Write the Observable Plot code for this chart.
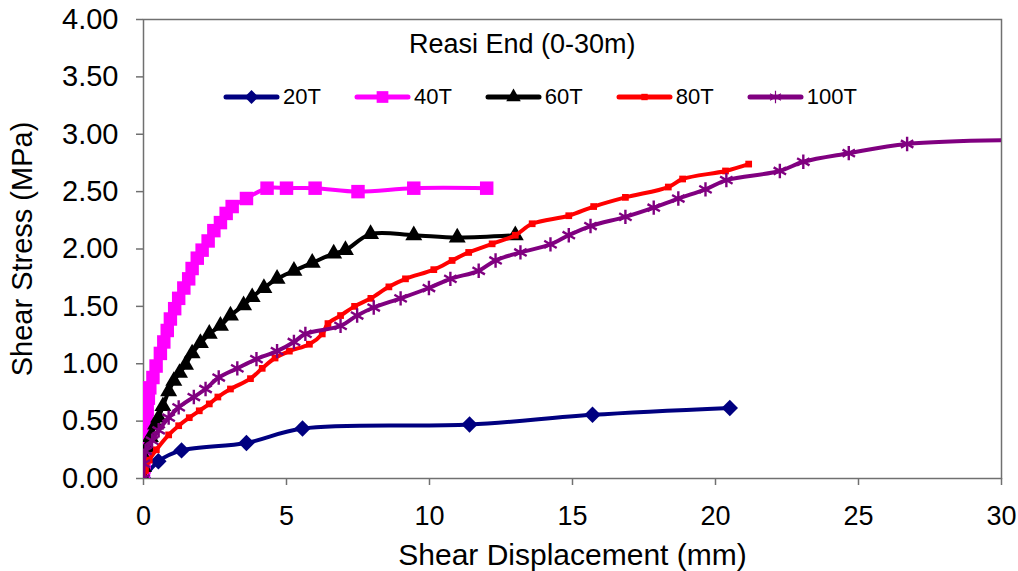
<!DOCTYPE html>
<html>
<head>
<meta charset="utf-8">
<script src="https://cdn.jsdelivr.net/npm/d3@7"></script>
<script src="https://cdn.jsdelivr.net/npm/@observablehq/plot@0.6"></script>
<style>
  body { margin: 0; background: #fff; font-family: "Liberation Sans", Arial, sans-serif; }
  #chart { position: relative; width: 1018px; height: 571px; }
  #title { position: absolute; left: 409px; top: 29px; font-size: 27px; color: #000; white-space: nowrap; }
  #legend { position: absolute; left: 223px; top: 84px; display: flex; align-items: center; font-size: 22px; color: #000; }
  #legend .item { display: flex; align-items: center; margin-right: 33px; }
  #legend svg { display: block; margin-right: 3px; }
</style>
</head>
<body>
<div id="chart"><div id="title">Reasi End (0-30m)</div><div id="legend"></div></div>
<script>
// Direct shear test, Reasi End (0-30 m): shear stress vs shear displacement
// for five normal loads.
const series = ["20T", "40T", "60T", "80T", "100T"];
const colors = ["#000080", "#ff00ff", "#000000", "#ff0000", "#800080"];
const symbols = ["diamond2", "square", "triangle", "square", "asterisk"];
const radii = [7.4, 7.6, 6.3, 3.8, 6.8];
const legendRadii = [6.2, 6.6, 5.4, 3.6, 6.0];

const xTicks = [0, 5, 10, 15, 20, 25, 30];
const yTicks = [0, 0.5, 1, 1.5, 2, 2.5, 3, 3.5, 4];

// shear displacement (mm) / shear stress (MPa)
const disp20 = [0, 0.52, 1.33, 3.6, 5.56, 11.4, 15.7, 20.5];
const stress20 = [0, 0.15, 0.245, 0.31, 0.435, 0.47, 0.555, 0.615];

const disp40 = [0, 0.02, 0.04, 0.06, 0.08, 0.1, 0.13, 0.17, 0.22, 0.33, 0.44, 0.59, 0.71, 0.83, 0.94, 1.09, 1.23, 1.41, 1.58, 1.7, 1.88, 2.05, 2.26, 2.46, 2.69, 2.89, 3.1, 3.6, 4.32, 5.0, 6.0, 7.5, 9.45, 12.0];
const stress40 = [0, 0.1, 0.2, 0.3, 0.4, 0.5, 0.6, 0.7, 0.79, 0.88, 0.98, 1.09, 1.19, 1.29, 1.39, 1.48, 1.57, 1.66, 1.74, 1.83, 1.92, 1.99, 2.07, 2.16, 2.23, 2.31, 2.37, 2.44, 2.53, 2.53, 2.53, 2.5, 2.53, 2.53];

const disp60 = [0, 0.0, 0.01, 0.13, 0.24, 0.42, 0.53, 0.68, 0.88, 1.06, 1.26, 1.47, 1.7, 1.99, 2.3, 2.69, 3.04, 3.5, 3.8, 4.21, 4.67, 5.26, 5.9, 6.65, 7.06, 7.94, 9.45, 10.97, 13.0];
const stress60 = [0, 0.1, 0.19, 0.27, 0.36, 0.47, 0.53, 0.63, 0.76, 0.85, 0.92, 0.99, 1.09, 1.18, 1.26, 1.33, 1.42, 1.51, 1.58, 1.66, 1.74, 1.81, 1.88, 1.96, 1.99, 2.13, 2.12, 2.1, 2.12];

const disp80 = [0, 0.07, 0.2, 0.45, 0.88, 1.23, 1.6, 1.95, 2.3, 2.6, 3.04, 3.74, 4.15, 4.6, 5.1, 5.8, 6.25, 6.45, 6.89, 7.38, 7.95, 8.58, 9.16, 10.15, 10.79, 11.37, 12.19, 13.0, 13.59, 14.87, 15.74, 16.85, 18.35, 18.85, 20.35, 21.16];
const stress80 = [0, 0.07, 0.16, 0.25, 0.38, 0.46, 0.53, 0.59, 0.65, 0.71, 0.78, 0.87, 0.96, 1.05, 1.11, 1.17, 1.26, 1.35, 1.42, 1.5, 1.57, 1.67, 1.74, 1.82, 1.9, 1.97, 2.045, 2.12, 2.22, 2.29, 2.37, 2.45, 2.54, 2.61, 2.68, 2.74];

const disp100 = [0, 0.01, 0.07, 0.3, 0.53, 0.88, 1.23, 1.76, 2.17, 2.63, 3.28, 3.95, 4.67, 5.26, 5.66, 6.89, 7.47, 8.05, 8.99, 9.98, 10.73, 11.72, 12.31, 13.18, 14.23, 14.87, 15.63, 16.85, 17.84, 18.7, 19.65, 20.38, 22.25, 23.07, 24.66, 26.7, 31.0];
const stress100 = [0, 0.13, 0.24, 0.33, 0.42, 0.53, 0.62, 0.71, 0.78, 0.88, 0.96, 1.04, 1.11, 1.19, 1.26, 1.33, 1.42, 1.49, 1.57, 1.66, 1.74, 1.81, 1.9, 1.97, 2.04, 2.12, 2.2, 2.28, 2.36, 2.44, 2.52, 2.6, 2.68, 2.76, 2.835, 2.915, 2.95];

const dispAll = [disp20, disp40, disp60, disp80, disp100];
const stressAll = [stress20, stress40, stress60, stress80, stress100];

const tables = series.map((name, i) =>
  dispAll[i].map((d, j) => ({series: name, disp: d, stress: stressAll[i][j]}))
);

const font = "'Liberation Sans', Arial, sans-serif";

const seriesMarks = tables.flatMap((rows, i) => {
  const sym = symbols[i];
  const stroked = sym === "asterisk";
  return [
    Plot.line(rows, {x: "disp", y: "stress", stroke: colors[i], strokeWidth: 4, curve: "catmull-rom", clip: true}),
    Plot.dot(rows, {
      x: "disp", y: "stress", symbol: () => sym, r: radii[i], clip: true,
      fill: stroked ? "none" : colors[i],
      stroke: colors[i], strokeWidth: stroked ? 2.4 : 0
    })
  ];
});

const chart = Plot.plot({
  width: 1018,
  height: 571,
  marginLeft: 143,
  marginRight: 17,
  marginTop: 19,
  marginBottom: 93,
  style: {fontFamily: font, background: "#fff", color: "#000"},
  x: {domain: [0, 30]},
  y: {domain: [0, 4]},
  symbol: {type: "identity"},
  marks: [
    Plot.frame({stroke: "#707070", strokeWidth: 1.5}),
    Plot.axisY({
      ticks: yTicks, tickFormat: d3.format(".2f"), tickSize: 7, tickPadding: 18,
      fontSize: 29, stroke: "#707070", strokeWidth: 1.5,
      label: null
    }),
    Plot.axisY({
      ticks: [], tickSize: 0,
      fontSize: 29, label: "Shear Stress (MPa)", labelAnchor: "center", labelArrow: "none", labelOffset: 132, dy: -8
    }),
    Plot.axisX({
      ticks: xTicks, tickSize: 7, tickPadding: 20,
      fontSize: 27, stroke: "#707070", strokeWidth: 1.5,
      label: null
    }),
    Plot.axisX({
      ticks: [], tickSize: 0,
      fontSize: 30, label: "Shear Displacement (mm)", labelAnchor: "center", labelArrow: "none", labelOffset: 86, dx: 16
    }),
    ...seriesMarks
  ]
});

document.getElementById("chart").prepend(chart);

// legend: line sample with the series marker, then its name
const legend = d3.select("#legend");
const symbolTypes = {diamond2: d3.symbolDiamond2, square: d3.symbolSquare, triangle: d3.symbolTriangle, asterisk: d3.symbolAsterisk};
series.forEach((name, i) => {
  const item = legend.append("div").attr("class", "item");
  const svg = item.append("svg").attr("width", 57).attr("height", 22);
  svg.append("line").attr("x1", 3).attr("x2", 54).attr("y1", 11).attr("y2", 11)
    .attr("stroke", colors[i]).attr("stroke-width", 5).attr("stroke-linecap", "round");
  const stroked = symbols[i] === "asterisk";
  svg.append("path")
    .attr("transform", "translate(28.5,11)")
    .attr("d", d3.symbol(symbolTypes[symbols[i]], Math.PI * legendRadii[i] * legendRadii[i])())
    .attr("fill", stroked ? "none" : colors[i])
    .attr("stroke", stroked ? colors[i] : "none")
    .attr("stroke-width", stroked ? 1.2 : 0);
  item.append("span").text(name);
});
</script>
</body>
</html>
